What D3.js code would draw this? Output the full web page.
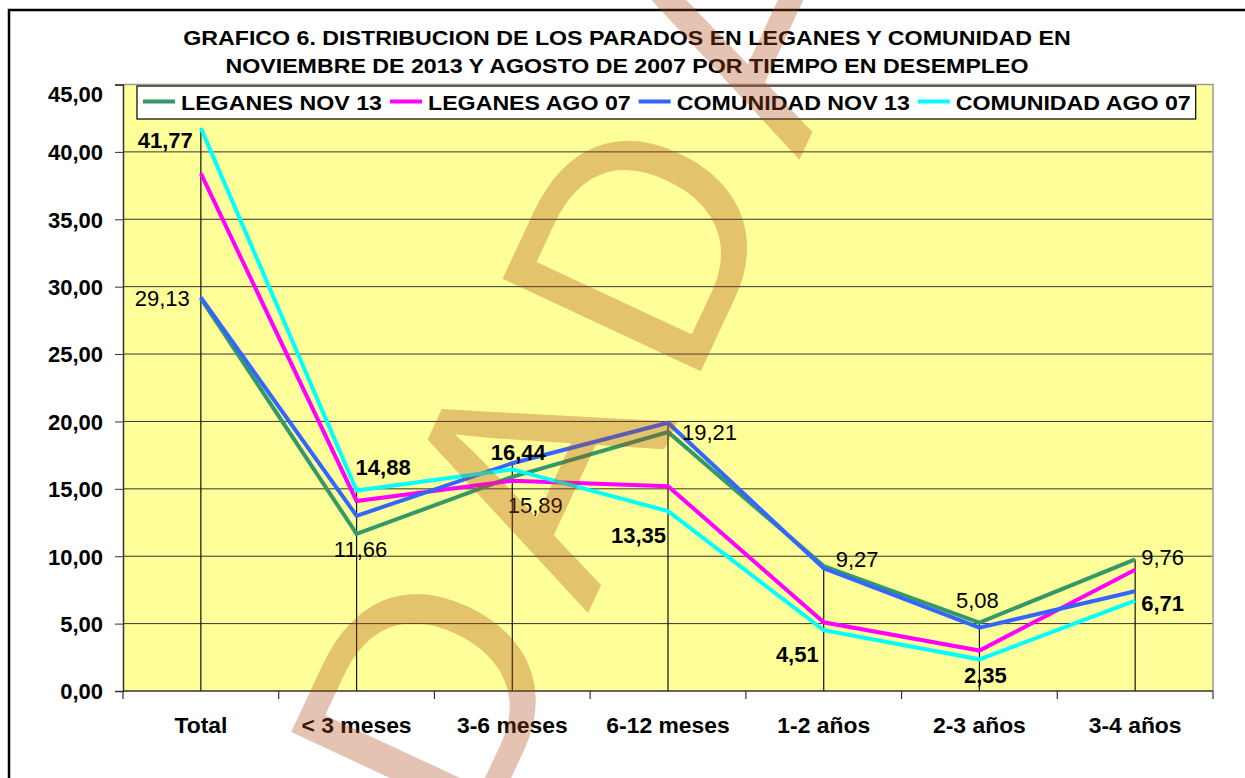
<!DOCTYPE html>
<html lang="es">
<head>
  <meta charset="utf-8">
  <title>Grafico 6</title>
  <script src="https://cdn.jsdelivr.net/npm/d3@7"></script>
  <style>
    body { margin: 0; background: #fff; }
    text { font-family: "Liberation Sans", Arial, sans-serif; }
    .bold { font-weight: bold; }
  </style>
</head>
<body>
  <div id="chart"></div>
  <script>
    var categories = ["Total", "< 3 meses", "3-6 meses", "6-12 meses", "1-2 años", "2-3 años", "3-4 años"];
    var leganesNov13 = [29.13, 11.66, 15.89, 19.21, 9.27, 5.08, 9.76];
    var leganesAgo07 = [38.4, 14.1, 15.6, 15.2, 5.1, 3.0, 9.0];
    var comunidadNov13 = [29.2, 13.0, 16.9, 19.9, 9.1, 4.7, 7.4];
    var comunidadAgo07 = [41.77, 14.88, 16.44, 13.35, 4.51, 2.35, 6.71];
    var seriesNames = ["LEGANES NOV 13", "LEGANES AGO 07", "COMUNIDAD NOV 13", "COMUNIDAD AGO 07"];
    var seriesColors = ["#339966", "#ff00ff", "#3366ff", "#00ffff"];
    var yTicks = [0, 5, 10, 15, 20, 25, 30, 35, 40, 45];
    var titleLines = ["GRAFICO 6. DISTRIBUCION DE LOS PARADOS EN LEGANES Y COMUNIDAD EN",
                      "NOVIEMBRE DE 2013 Y AGOSTO DE 2007 POR TIEMPO EN DESEMPLEO"];

    // where the data labels sit (anchor, dx, dy from the point)
    var greenLabelPos = [["end", -11, 8], ["middle", 4, 23], ["middle", 23, 36], ["start", 14, 8],
                         ["start", 12, 1], ["middle", -2, -15], ["start", 6, 6]];
    var cyanLabelPos = [["end", -8, 20], ["start", -1, -15], ["middle", 6, -9], ["end", -2, 32],
                        ["end", -5, 32], ["middle", 6, 24], ["start", 6, 10]];

    var series = [leganesNov13, leganesAgo07, comunidadNov13, comunidadAgo07];

    var w = 1245, h = 778;
    var plot = {left: 123, right: 1213, top: 84.5, bottom: 691};
    var stretch = 1.105; // the title and legend type is drawn a bit wide

    var svg = d3.select("#chart").append("svg")
      .attr("width", w)
      .attr("height", h);

    var locale = d3.formatLocale({decimal: ",", thousands: ".", grouping: [3], currency: ["", "€"]});
    var fmt = locale.format(".2f");

    var x = d3.scaleBand().domain(categories).range([plot.left, plot.right]).padding(0);
    var y = d3.scaleLinear().domain([0, 45]).range([plot.bottom, plot.top]);
    var cx = function(d) { return x(d) + x.bandwidth() / 2; };

    // outer frame
    svg.append("rect")
      .attr("x", 9).attr("y", 10)
      .attr("width", w + 20).attr("height", h + 20)
      .attr("fill", "#fff")
      .attr("stroke", "#000")
      .attr("stroke-width", 2.5);

    // plot area
    svg.append("rect")
      .attr("x", plot.left).attr("y", plot.top)
      .attr("width", plot.right - plot.left).attr("height", plot.bottom - plot.top)
      .attr("fill", "#ffff99");

    svg.selectAll(".grid")
      .data(yTicks.filter(function(d) { return d > 0 && d < 45; }))
      .enter().append("line")
      .attr("class", "grid")
      .attr("x1", plot.left).attr("x2", plot.right)
      .attr("y1", function(d) { return y(d); })
      .attr("y2", function(d) { return y(d); })
      .attr("stroke", "#333")
      .attr("stroke-width", 1);

    // gray border top and right
    svg.append("path")
      .attr("d", "M" + plot.left + "," + plot.top + "H" + plot.right + "V" + plot.bottom)
      .attr("fill", "none")
      .attr("stroke", "#9a9a9a")
      .attr("stroke-width", 1.5);

    // drop lines
    svg.selectAll(".drop")
      .data(categories)
      .enter().append("line")
      .attr("class", "drop")
      .attr("x1", cx).attr("x2", cx)
      .attr("y1", function(d, i) { return y(d3.max(series, function(s) { return s[i]; })); })
      .attr("y2", y(0))
      .attr("stroke", "#111")
      .attr("stroke-width", 1.2);

    // y axis
    var yAxis = svg.append("g")
      .attr("transform", "translate(" + plot.left + ",0)")
      .call(d3.axisLeft(y).tickValues(yTicks).tickSize(8).tickPadding(12).tickFormat(fmt));
    yAxis.select(".domain").attr("stroke", "#333").attr("stroke-width", 1.5);
    yAxis.selectAll(".tick line").attr("stroke", "#333");
    yAxis.selectAll(".tick text")
      .attr("class", "bold")
      .attr("font-size", 22)
      .attr("fill", "#000")
      .attr("dy", function(d) { return d === 45 ? "0.78em" : "0.36em"; });

    // x axis
    svg.append("line")
      .attr("x1", plot.left).attr("x2", plot.right)
      .attr("y1", y(0)).attr("y2", y(0))
      .attr("stroke", "#333").attr("stroke-width", 1.5);
    var bounds = categories.map(function(d) { return x(d); }).concat([plot.right]);
    svg.selectAll(".xtick")
      .data(bounds)
      .enter().append("line")
      .attr("class", "xtick")
      .attr("x1", function(d) { return d; }).attr("x2", function(d) { return d; })
      .attr("y1", y(0)).attr("y2", y(0) + 8)
      .attr("stroke", "#333").attr("stroke-width", 1.2);
    svg.selectAll(".xlabel")
      .data(categories)
      .enter().append("text")
      .attr("class", "xlabel bold")
      .attr("transform", function(d) { return "translate(" + cx(d) + ",733) scale(1.04,1)"; })
      .attr("text-anchor", "middle")
      .attr("font-size", 22)
      .text(function(d) { return d; });

    // lines
    var line = d3.line()
      .x(function(d, i) { return cx(categories[i]); })
      .y(function(d) { return y(d); });

    svg.selectAll(".series")
      .data(series)
      .enter().append("path")
      .attr("class", "series")
      .attr("d", line)
      .attr("fill", "none")
      .attr("stroke", function(d, i) { return seriesColors[i]; })
      .attr("stroke-width", 4)
      .attr("stroke-linejoin", "miter");

    // data labels
    function labels(values, pos, bold) {
      svg.selectAll(null)
        .data(values)
        .enter().append("text")
        .attr("class", bold ? "bold" : null)
        .attr("x", function(d, i) { return cx(categories[i]) + pos[i][1]; })
        .attr("y", function(d, i) { return y(d) + pos[i][2]; })
        .attr("text-anchor", function(d, i) { return pos[i][0]; })
        .attr("font-size", 22)
        .text(function(d) { return fmt(d); });
    }
    labels(leganesNov13, greenLabelPos, false);
    labels(comunidadAgo07, cyanLabelPos, true);

    // title
    svg.selectAll(".title")
      .data(titleLines)
      .enter().append("text")
      .attr("class", "title bold")
      .attr("transform", function(d, i) {
        return "translate(627," + (45 + i * 28.3) + ") scale(" + stretch + ",1)";
      })
      .attr("text-anchor", "middle")
      .attr("font-size", 21)
      .text(function(d) { return d; });

    // legend
    var legend = svg.append("g");
    var box = legend.append("rect")
      .attr("x", 137).attr("y", 86)
      .attr("height", 33)
      .attr("fill", "#fff")
      .attr("stroke", "#000")
      .attr("stroke-width", 1.2);
    var lx = 143;
    seriesNames.forEach(function(name, i) {
      legend.append("line")
        .attr("x1", lx).attr("x2", lx + 32)
        .attr("y1", 101.5).attr("y2", 101.5)
        .attr("stroke", seriesColors[i])
        .attr("stroke-width", 4);
      var t = legend.append("text")
        .attr("class", "bold")
        .attr("transform", "translate(" + (lx + 38) + ",110) scale(" + stretch + ",1)")
        .attr("font-size", 21)
        .text(name);
      lx += 38 + t.node().getComputedTextLength() * stretch + 8;
    });
    box.attr("width", lx - 3 - 137);

    // watermark
    var mark = svg.append("g").attr("opacity", 0.33);
    var markLetters = ["D", "A", "D", "A"];
    var angle = -65, step = 250;
    var rad = angle * Math.PI / 180;
    mark.selectAll("text")
      .data(markLetters)
      .enter().append("text")
      .attr("transform", function(d, i) {
        var px = 527 + i * step * Math.cos(rad);
        var py = 744 + i * step * Math.sin(rad);
        return "translate(" + px + "," + py + ") rotate(" + angle + ")";
      })
      .attr("text-anchor", "middle")
      .attr("font-size", 318)
      .attr("fill", "rgb(174,75,24)")
      .text(function(d) { return d; });
  </script>
</body>
</html>
